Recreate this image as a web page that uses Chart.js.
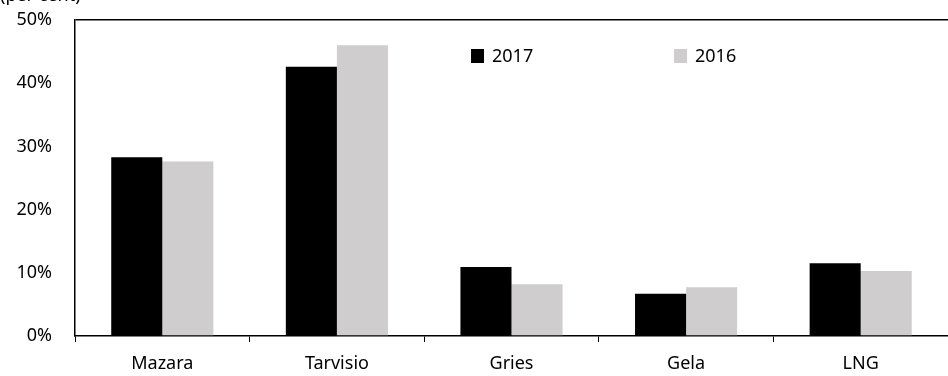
<!DOCTYPE html>
<html>
<head>
<meta charset="utf-8">
<script src="https://cdn.jsdelivr.net/npm/chart.js@4"></script>
<style>
  body { margin: 0; background: #fff; }
  #wrap { width: 948px; height: 376px; }
</style>
</head>
<body>
<div id="wrap"><canvas id="chartOne" width="948" height="376"></canvas></div>
<script>
// data
const categories = ['Mazara', 'Tarvisio', 'Gries', 'Gela', 'LNG'];
const series2017 = [28.3, 42.6, 10.9, 6.7, 11.5];
const series2016 = [27.6, 46.0, 8.2, 7.7, 10.3];
const yTicks = [0, 10, 20, 30, 40, 50];

const FONT = '"Noto Sans", sans-serif';
const FSIZE = 18;

// legend + unit label drawn by hand
const extras = {
    id: 'extras',
    afterDraw(chart) {
        const ctx = chart.ctx;
        ctx.save();
        ctx.fillStyle = '#000';
        ctx.font = FSIZE + 'px ' + FONT;
        ctx.textBaseline = 'alphabetic';
        ctx.fillText('(per cent)', 0, 0.5);
        const pos = [471, 674];
        chart.data.datasets.forEach((ds, i) => {
            ctx.fillStyle = ds.backgroundColor;
            ctx.fillRect(pos[i], 49, 13, 14);
            ctx.fillStyle = '#000';
            ctx.textBaseline = 'middle';
            ctx.fillText(ds.label, pos[i] + 21, 57);
        });
        ctx.restore();
    }
};

const ctxOne = document.getElementById('chartOne').getContext('2d');
const chartOne = new Chart(ctxOne, {
    type: 'bar',
    data: {
        labels: categories,
        datasets: [{
            label: '2017',
            data: series2017,
            backgroundColor: '#000000'
        }, {
            label: '2016',
            data: series2016,
            backgroundColor: '#cfcdcd'
        }]
    },
    options: {
        responsive: false,
        animation: false,
        layout: { padding: { top: 20, right: 0, left: 0, bottom: 0 } },
        datasets: { bar: { categoryPercentage: 0.585, barPercentage: 1.0 } },
        plugins: {
            legend: { display: false },
            tooltip: { enabled: false }
        },
        scales: {
            x: {
                offset: true,
                grid: {
                    offset: true,
                    drawOnChartArea: false,
                    drawTicks: true,
                    tickLength: 6,
                    color: '#000'
                },
                border: { color: '#000', width: 1.5 },
                ticks: { color: '#000', font: { family: FONT, size: FSIZE }, padding: 11 },
                afterFit(s) { s.height = 40; s.paddingLeft = 0; s.paddingRight = 0; }
            },
            y: {
                min: 0,
                max: 50,
                afterBuildTicks(s) { s.ticks = yTicks.map(v => ({ value: v })); },
                grid: {
                    drawTicks: false,
                    color: c => c.tick && c.tick.value === 50 ? '#000' : 'rgba(0,0,0,0)',
                    lineWidth: 1.5
                },
                border: { color: '#000', width: 1.5 },
                ticks: {
                    color: '#000',
                    font: { family: FONT, size: FSIZE },
                    padding: 23,
                    callback: v => v + '%'
                },
                afterFit(s) { s.width = 75; s.paddingTop = 0; s.paddingBottom = 0; }
            }
        }
    },
    plugins: [extras]
});
</script>
</body>
</html>
